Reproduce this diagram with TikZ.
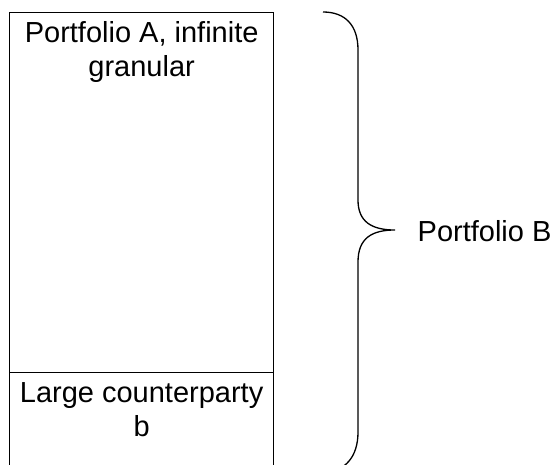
\documentclass[tikz,border=0pt]{standalone}
\usepackage{fontspec}
\setmainfont{Liberation Sans}
\begin{document}
\begin{tikzpicture}[x=1pt,y=-1pt,line width=1.3pt,
  box/.style={draw,minimum width=264pt,inner sep=0pt,anchor=north west},
  lbl/.style={font=\fontsize{29}{33.5}\selectfont,align=center,inner sep=0pt}]
\useasboundingbox (0,0) rectangle (556,464);
\begin{scope}
\clip (0,0) rectangle (556,464);
\node[box,minimum height=360pt] (A) at (9,12) {};
\node[box,minimum height=100pt] (b) at (9,372) {};
\coordinate (bt) at (323,12);
\coordinate (bb) at (323,472);
\coordinate (tip) at (395,230);
\draw (bt) .. controls (345,12) and (358,25) .. (358,50) -- (358,200)
  .. controls (358,222) and (372,230) .. (tip)
  .. controls (372,230) and (358,238) .. (358,262) -- (358,432)
  .. controls (358,457) and (345,472) .. (bb);
\end{scope}
\node[lbl,anchor=north] (tA) at ([yshift=-9pt]A.north) {Portfolio A, infinite\\granular};
\node[lbl,anchor=north] (tb) at ([yshift=-10pt]b.north) {Large counterparty\\b};
\node[lbl,anchor=west] (pB) at (417,231) {Portfolio B};
\end{tikzpicture}
\end{document}
